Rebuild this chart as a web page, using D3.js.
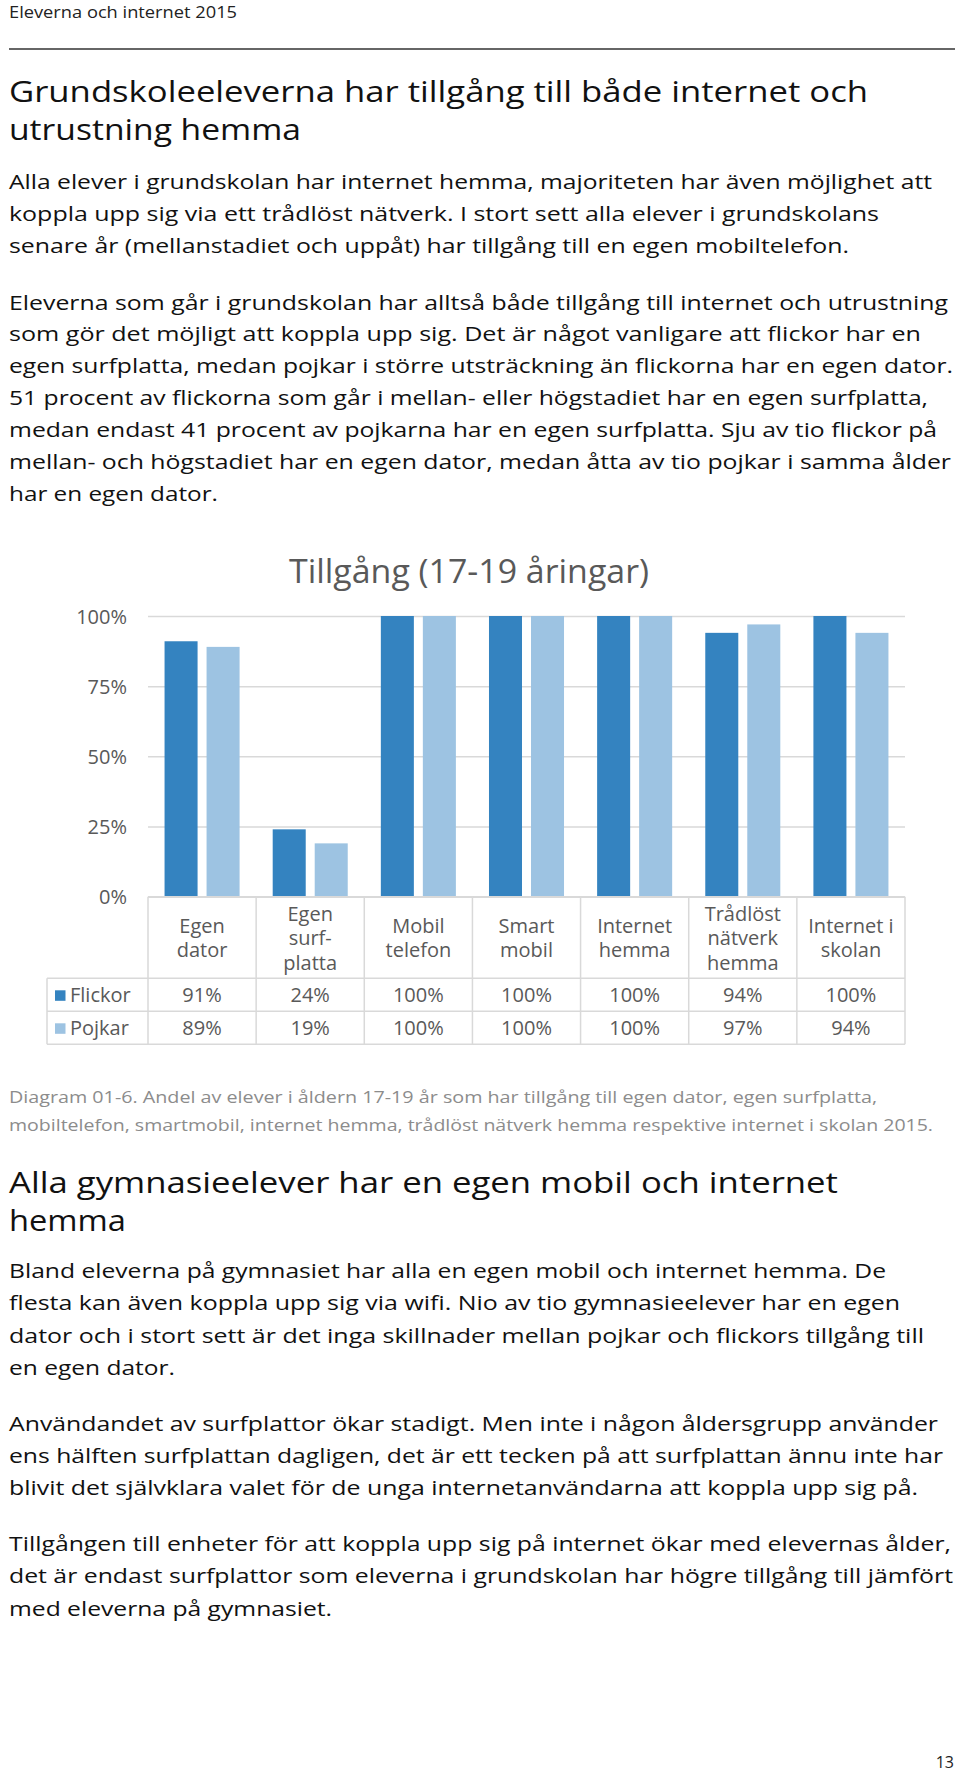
<!DOCTYPE html>
<html><head><meta charset="utf-8">
<script src="https://cdn.jsdelivr.net/npm/d3@7"></script>
<style>
body{margin:0;background:#fff}
svg{display:block}
text{font-family:"Open Sans",sans-serif}
</style>
</head><body><div id="c"></div>
<script>
// ---- chart data ----
const categories = ["Egen dator","Egen surfplatta","Mobil telefon","Smart mobil","Internet hemma","Trådlöst nätverk hemma","Internet i skolan"];
const categoryLines = [["Egen","dator"],["Egen","surf-","platta"],["Mobil","telefon"],["Smart","mobil"],["Internet","hemma"],["Trådlöst","nätverk","hemma"],["Internet i","skolan"]];
const series = ["Flickor","Pojkar"];
const flickor = [91,24,100,100,100,94,100];
const pojkar = [89,19,100,100,100,97,94];
const yTicks = [0,25,50,75,100];
const chartTitle = "Tillgång (17-19 åringar)";

// ---- page text ----
const headerText = "Eleverna och internet 2015";
const heading1 = ["Grundskoleeleverna har tillgång till både internet och","utrustning hemma"];
const para1 = ["Alla elever i grundskolan har internet hemma, majoriteten har även möjlighet att",
"koppla upp sig via ett trådlöst nätverk. I stort sett alla elever i grundskolans",
"senare år (mellanstadiet och uppåt) har tillgång till en egen mobiltelefon."];
const para2 = ["Eleverna som går i grundskolan har alltså både tillgång till internet och utrustning",
"som gör det möjligt att koppla upp sig. Det är något vanligare att flickor har en",
"egen surfplatta, medan pojkar i större utsträckning än flickorna har en egen dator.",
"51 procent av flickorna som går i mellan- eller högstadiet har en egen surfplatta,",
"medan endast 41 procent av pojkarna har en egen surfplatta. Sju av tio flickor på",
"mellan- och högstadiet har en egen dator, medan åtta av tio pojkar i samma ålder",
"har en egen dator."];
const caption = ["Diagram 01-6. Andel av elever i åldern 17-19 år som har tillgång till egen dator, egen surfplatta,",
"mobiltelefon, smartmobil, internet hemma, trådlöst nätverk hemma respektive internet i skolan 2015."];
const heading2 = ["Alla gymnasieelever har en egen mobil och internet","hemma"];
const para3 = ["Bland eleverna på gymnasiet har alla en egen mobil och internet hemma. De",
"flesta kan även koppla upp sig via wifi. Nio av tio gymnasieelever har en egen",
"dator och i stort sett är det inga skillnader mellan pojkar och flickors tillgång till",
"en egen dator."];
const para4 = ["Användandet av surfplattor ökar stadigt. Men inte i någon åldersgrupp använder",
"ens hälften surfplattan dagligen, det är ett tecken på att surfplattan ännu inte har",
"blivit det självklara valet för de unga internetanvändarna att koppla upp sig på."];
const para5 = ["Tillgången till enheter för att koppla upp sig på internet ökar med elevernas ålder,",
"det är endast surfplattor som eleverna i grundskolan har högre tillgång till jämfört",
"med eleverna på gymnasiet."];
const pageNumber = "13";

// ---- drawing ----
const W = 960, H = 1773;
const svg = d3.select("#c").append("svg").attr("width",W).attr("height",H);
svg.append("rect").attr("width",W).attr("height",H).attr("fill","#fff");

function textBlock(lines, x0, ys, ends, size, color){
  lines.forEach((t,i)=>{
    const el = svg.append("text").attr("x",x0).attr("y",ys[i]).attr("dominant-baseline","central")
      .attr("font-size",size).attr("fill",color).text(t);
    if(ends && ends[i]){
      el.attr("textLength",ends[i]-x0).attr("lengthAdjust","spacingAndGlyphs");
    }
  });
}
const X0 = 9;
textBlock([headerText], X0, [12], [237], 16, "#222");
svg.append("line").attr("x1",9).attr("x2",955).attr("y1",49).attr("y2",49).attr("stroke","#333").attr("stroke-width",1.5);
textBlock(heading1, X0, [90,128], [868,301], 30, "#111");
textBlock(para1, X0, [181.7,213.4,245], [932,879,849], 20, "#111");
textBlock(para2, X0, [302,333.9,365.8,397.7,429.6,461.5,493.4], [948,921,953,928,937,951,218], 20, "#111");
textBlock(caption, X0, [1097,1125], [877,933], 16, "#8c8c8c");
textBlock(heading2, X0, [1181,1219], [838,126], 30, "#111");
textBlock(para3, X0, [1270,1302,1335,1367], [886,900,924,175], 20, "#111");
textBlock(para4, X0, [1423,1455,1487], [938,943,918], 20, "#111");
textBlock(para5, X0, [1543,1575,1608], [951,953,332], 20, "#111");
svg.append("text").attr("x",954).attr("y",1762).attr("text-anchor","end").attr("dominant-baseline","central")
  .attr("font-size",16).attr("fill","#222").text(pageNumber);

// chart
const colors = {Flickor:"#3483c0", Pojkar:"#9dc3e2"};
const gridColor = "#d9d9d9";
const textGray = "#595959";
const plotL = 148, plotR = 905, plotT = 616, plotB = 896.7;
const x = d3.scaleBand().domain(categories).range([plotL, plotR]).padding(0);
const xs = d3.scaleBand().domain(series).range([0, x.bandwidth()]).paddingInner(0.214).paddingOuter(0.394);
const y = d3.scaleLinear().domain([0,100]).range([plotB, plotT]);

const g = svg.append("g");
g.append("text").attr("x",469).attr("y",570).attr("text-anchor","middle").attr("dominant-baseline","central")
  .attr("font-size",32).attr("fill",textGray).attr("textLength",360).attr("lengthAdjust","spacingAndGlyphs").text(chartTitle);

const yAxis = d3.axisLeft(y).tickValues(yTicks).tickSize(-(plotR-plotL)).tickFormat(d=>d+"%");
const ya = g.append("g").attr("transform",`translate(${plotL},0)`).call(yAxis);
ya.select(".domain").remove();
ya.selectAll(".tick line").attr("stroke",gridColor).attr("stroke-width",1.5);
ya.selectAll(".tick text").attr("x",-21).attr("font-size",20).attr("fill",textGray)
  .attr("font-family","'Open Sans',sans-serif").attr("dy","0.35em");

const data = categories.map((c,i)=>({cat:c, Flickor:flickor[i], Pojkar:pojkar[i]}));
const groups = g.selectAll(".grp").data(data).join("g").attr("transform",d=>`translate(${x(d.cat)},0)`);
groups.selectAll("rect").data(d=>series.map(s=>({s, v:d[s]}))).join("rect")
  .attr("x",d=>xs(d.s)).attr("width",xs.bandwidth())
  .attr("y",d=>y(d.v)).attr("height",d=>y(0)-y(d.v)).attr("fill",d=>colors[d.s]);

// data table
const tblL = 47, hdrB = 978.3, rowH = 33;
const rowsY = [hdrB, hdrB+rowH, hdrB+2*rowH];
const tg = g.append("g").attr("stroke",gridColor).attr("stroke-width",1.5).attr("fill","none");
// horizontal lines
tg.append("line").attr("x1",plotL).attr("x2",plotR).attr("y1",plotB).attr("y2",plotB);
rowsY.forEach(yy=>tg.append("line").attr("x1",tblL).attr("x2",plotR).attr("y1",yy).attr("y2",yy));
// vertical lines
const bounds = categories.map(c=>x(c)).concat([plotR]);
bounds.forEach(bx=>tg.append("line").attr("x1",bx).attr("x2",bx).attr("y1",plotB).attr("y2",rowsY[2]));
tg.append("line").attr("x1",tblL).attr("x2",tblL).attr("y1",hdrB).attr("y2",rowsY[2]);

// category labels
const lh = 24.5;
categories.forEach((c,i)=>{
  const lines = categoryLines[i];
  const cy = (plotB+hdrB)/2 - (lines.length-1)*lh/2;
  lines.forEach((t,j)=>{
    g.append("text").attr("x",x(c)+x.bandwidth()/2).attr("y",cy+j*lh).attr("text-anchor","middle")
      .attr("dominant-baseline","central").attr("font-size",20).attr("fill",textGray).text(t);
  });
});
// rows
const vals = {Flickor:flickor, Pojkar:pojkar};
series.forEach((s,r)=>{
  const cy = rowsY[r] + rowH/2;
  g.append("rect").attr("x",55).attr("y",cy-4.5).attr("width",10.5).attr("height",10.5).attr("fill",colors[s]);
  g.append("text").attr("x",70).attr("y",cy).attr("dominant-baseline","central").attr("font-size",20).attr("fill",textGray).text(s);
  categories.forEach((c,i)=>{
    g.append("text").attr("x",x(c)+x.bandwidth()/2).attr("y",cy).attr("text-anchor","middle")
      .attr("dominant-baseline","central").attr("font-size",20).attr("fill",textGray).text(vals[s][i]+"%");
  });
});
</script>
</body></html>
